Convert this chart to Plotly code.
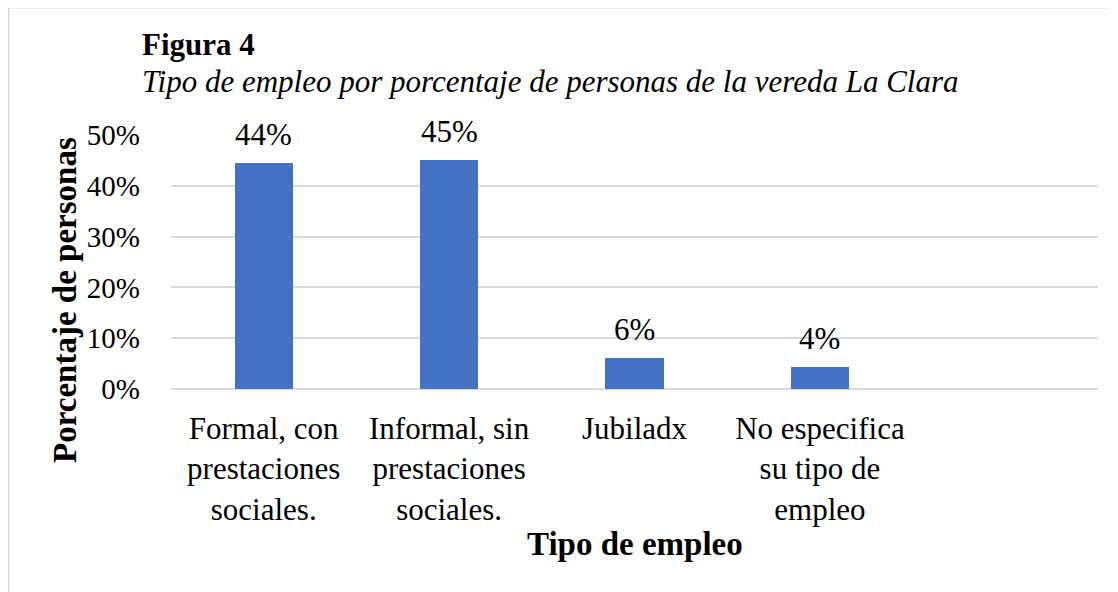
import plotly.graph_objs as go

categories = [
    "Formal, con<br>prestaciones<br>sociales.",
    "Informal, sin<br>prestaciones<br>sociales.",
    "Jubiladx",
    "No especifica<br>su tipo de<br>empleo",
]
porcentajes = [0.444, 0.450, 0.062, 0.044]
y_ticks = [0, 0.1, 0.2, 0.3, 0.4, 0.5]
y_ticklabels = ["0%", "10%", "20%", "30%", "40%", "50%"]

FONT = "Liberation Serif"
BAR_COLOR = "#4472C4"
GRID = "#d9d9d9"

x_pos = list(range(len(categories)))

fig = go.Figure()
fig.add_trace(go.Bar(
    x=x_pos,
    y=porcentajes,
    width=0.313,
    marker=dict(color=BAR_COLOR, line=dict(width=0)),
    hoverinfo="skip",
))

# data labels sit a bit higher than plotly's "outside" text
for xi, v in zip(x_pos, porcentajes):
    fig.add_annotation(
        x=xi, y=v, xref="x", yref="y",
        text=f"{v:.0%}", showarrow=False,
        yanchor="bottom", yshift=9,
        font=dict(family=FONT, size=31, weight=400, color="#000000"),
    )

fig.add_annotation(
    x=-0.0335, y=1.358, xref="paper", yref="paper",
    text="<b>Figura 4</b>", showarrow=False,
    xanchor="left", yanchor="middle",
    font=dict(family=FONT, size=31, color="#000000"),
)
fig.add_annotation(
    x=-0.0335, y=1.212, xref="paper", yref="paper",
    text="<i>Tipo de empleo por porcentaje de personas de la vereda La Clara</i>",
    showarrow=False, xanchor="left", yanchor="middle",
    font=dict(family=FONT, size=31, weight=400, color="#000000"),
)
fig.add_annotation(
    x=-0.1143, y=0.351, xref="paper", yref="paper",
    text="<b>Porcentaje de personas</b>", showarrow=False,
    textangle=-90, xanchor="center", yanchor="middle",
    font=dict(family=FONT, size=33, color="#000000"),
)
fig.add_annotation(
    x=0.5, y=-0.612, xref="paper", yref="paper",
    text="<b>Tipo de empleo</b>", showarrow=False,
    xanchor="center", yanchor="middle",
    font=dict(family=FONT, size=33, color="#000000"),
)

# outer chart border (only top/left visible in the crop)
fig.add_shape(
    type="rect", xref="paper", yref="paper",
    x0=-0.1752, x1=1.2, y0=-1.5, y1=1.501,
    line=dict(color="#d9d9d9", width=1.5),
    fillcolor="rgba(0,0,0,0)", layer="below",
)

fig.update_layout(
    width=1118,
    height=592,
    margin=dict(l=163, r=28, t=127, b=211),
    paper_bgcolor="white",
    plot_bgcolor="white",
    showlegend=False,
    bargap=0,
    font=dict(family=FONT, size=29, weight=400, color="#000000"),
    xaxis=dict(
        range=[-0.5, 4.5],
        tickvals=x_pos,
        ticktext=categories,
        showgrid=False,
        zeroline=False,
        showline=False,
        ticks="",
        automargin=False,
        ticklabelstandoff=18,
        tickfont=dict(family=FONT, size=31, weight=400, color="#000000"),
    ),
    yaxis=dict(
        range=[0, 0.5],
        tickvals=y_ticks,
        ticktext=y_ticklabels,
        showgrid=True,
        gridcolor=GRID,
        gridwidth=1.5,
        zeroline=True,
        zerolinecolor=GRID,
        zerolinewidth=1.5,
        showline=False,
        ticks="",
        automargin=False,
        ticklabelstandoff=30,
        tickfont=dict(family=FONT, size=29, weight=400, color="#000000"),
    ),
)

fig.write_html("out.html")
